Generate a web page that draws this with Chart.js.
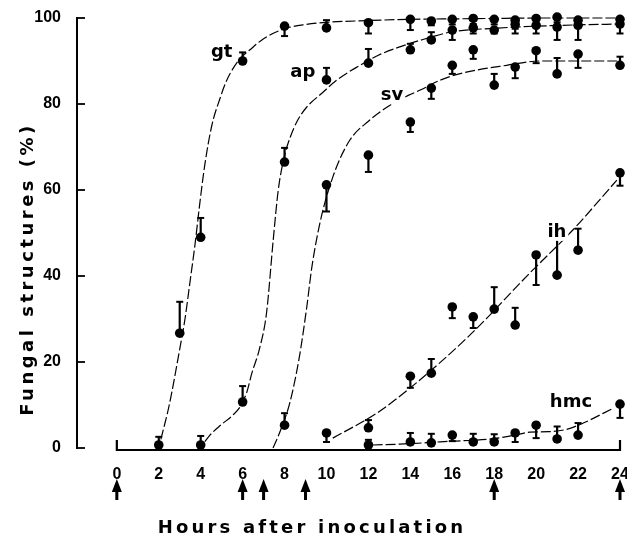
<!DOCTYPE html>
<html>
<head>
<meta charset="utf-8">
<script src="https://cdn.jsdelivr.net/npm/chart.js@4.4.1/dist/chart.umd.min.js"></script>
<style>
  html, body { margin: 0; padding: 0; background: #fff; }
  canvas { display: block; }
</style>
</head>
<body>
<canvas id="c" width="627" height="541"></canvas>
<script>
// ---------- data ----------
const xTicks = [0, 2, 4, 6, 8, 10, 12, 14, 16, 18, 20, 22, 24];
const yTicks = [0, 20, 40, 60, 80, 100];
const arrowHours = [0, 6, 7, 9, 18, 24];

// germ tubes (gt)
const gtHours = [2, 3, 4, 6, 8, 10, 12, 14, 15, 16, 17, 18, 19, 20, 21, 22, 24];
const gtValues = [0.7, 26.7, 49, 90, 98.1, 97.7, 98.9, 99.7, 99.3, 99.7, 99.9, 99.7, 99.5, 99.9, 100.2, 99.5, 99.7];
const gtErrEnd = [2.6, 34, 53.5, 92, 95.8, 99.5, 96.4, 97.2, 98.3, 98.5, 98.6, 98.5, 96.4, 98.7, 99, 98.4, 98.5];

// appressoria (ap)
const apHours = [4, 6, 8, 10, 12, 14, 15, 16, 17, 18, 19, 20, 21, 22, 24];
const apValues = [0.7, 10.7, 66.5, 85.6, 89.5, 92.6, 94.9, 97.2, 97.7, 97.2, 98.5, 98.3, 97.9, 98.3, 98.6];
const apErrEnd = [2.8, 14.4, 69.8, 88.4, 92.8, 94, 96.7, 94.9, 96.4, 96.4, 97.5, 96.4, 94.9, 94.9, 96.4];

// substomatal vesicles (sv)
const svHours = [8, 10, 12, 14, 15, 16, 17, 18, 19, 20, 21, 22, 24];
const svValues = [5.3, 61.2, 68.1, 75.8, 83.7, 89, 92.6, 84.4, 88.6, 92.4, 87, 91.6, 89];
const svErrEnd = [8.1, 55, 64.2, 73.5, 81.2, 87, 90.5, 87, 86, 89.5, 90.7, 88.4, 91];

// infection hyphae (ih)
const ihHours = [10, 12, 14, 15, 16, 17, 18, 19, 20, 21, 22, 24];
const ihValues = [3.5, 4.7, 16.7, 17.4, 32.8, 30.5, 32.3, 28.6, 44.9, 40.2, 46, 64];
const ihErrEnd = [1.4, 6.5, 14, 20.7, 30.2, 27.9, 37.4, 32.6, 37.9, 49.5, 51, 61];

// haustorial mother cells (hmc)
const hmcHours = [12, 14, 15, 16, 17, 18, 19, 20, 21, 22, 24];
const hmcValues = [0.7, 1.4, 1.2, 3, 1.4, 1.4, 3.5, 5.3, 2.1, 3, 10.2];
const hmcErrEnd = [1.9, 3.5, 3.3, 1.6, 3.3, 3.2, 1.4, 2.3, 5, 5.8, 7];

// fitted curves
const gtCurveX = [2.1, 2.5, 3, 3.25, 3.5, 3.72, 3.96, 4.2, 4.53, 4.9, 5.25, 5.87, 6.35, 7, 8, 9, 10, 12, 14, 16, 18, 20, 22, 24];
const gtCurveY = [2, 10, 23, 30, 39, 47, 57, 66, 75, 81, 85.6, 90.5, 92.6, 95.2, 97.5, 98.5, 99, 99.4, 99.7, 99.8, 99.9, 100, 100, 100];
const apCurveX = [4.2, 4.44, 5, 5.5, 5.87, 6.2, 6.44, 6.8, 7.14, 7.46, 7.7, 8, 8.25, 8.6, 9.06, 9.78, 10.5, 11.6, 12.5, 13.5, 14.6, 16, 18, 20, 22, 24];
const apCurveY = [1.5, 3, 5.5, 7.5, 9.5, 13, 17.4, 23, 31.4, 48.4, 60, 68, 72, 76, 79.3, 82.5, 85.6, 89, 91.4, 93.3, 95, 96.8, 97.6, 98.1, 98.4, 98.6];
const svCurveX = [7.45, 7.8, 8.25, 8.7, 9.06, 9.3, 9.7, 10.3, 11.1, 12, 12.9, 13.9, 14.5, 15.4, 16.5, 18.6, 20.2, 22, 24];
const svCurveY = [0, 4, 10.5, 21, 32.8, 42, 52.6, 63, 71.5, 76, 79.3, 82, 83.3, 85.5, 87.2, 89, 90, 90, 90];
const ihCurveX = [10.3, 12.4, 14, 15.4, 16.7, 17.65, 18.6, 19.7, 21.75, 23.85];
const ihCurveY = [2.3, 8.1, 14, 19.8, 25.6, 30.2, 35.1, 40.7, 50.7, 62.3];
const hmcCurveX = [12.2, 13.5, 15, 16, 17, 18, 19, 19.7, 20.6, 21.5, 22.25, 23.7];
const hmcCurveY = [0.7, 0.9, 1.3, 1.6, 1.8, 2.2, 3, 3.7, 3.8, 4.4, 5.8, 9.3];

const seriesNames = ['gt', 'ap', 'sv', 'ih', 'hmc'];
const xTitle = 'Hours after inoculation';
const yTitle = 'Fungal structures (%)';

// ---------- build datasets ----------
const toXY = (xs, ys) => xs.map((x, i) => ({ x: x, y: ys[i] }));
const series = [
  { name: 'gt', h: gtHours, v: gtValues, e: gtErrEnd, cx: gtCurveX, cy: gtCurveY },
  { name: 'ap', h: apHours, v: apValues, e: apErrEnd, cx: apCurveX, cy: apCurveY },
  { name: 'sv', h: svHours, v: svValues, e: svErrEnd, cx: svCurveX, cy: svCurveY },
  { name: 'ih', h: ihHours, v: ihValues, e: ihErrEnd, cx: ihCurveX, cy: ihCurveY },
  { name: 'hmc', h: hmcHours, v: hmcValues, e: hmcErrEnd, cx: hmcCurveX, cy: hmcCurveY }
];

const datasets = [];
series.forEach(s => {
  datasets.push({
    type: 'line', label: s.name + ' fit', data: toXY(s.cx, s.cy),
    borderColor: '#000', borderWidth: 1.2, borderDash: [10, 3],
    pointRadius: 0, fill: false, cubicInterpolationMode: 'monotone', clip: false, order: 2
  });
  datasets.push({
    type: 'scatter', label: s.name, data: toXY(s.h, s.v), errEnd: s.e,
    backgroundColor: '#000', borderColor: '#000', pointRadius: 4.8, pointBorderWidth: 0,
    showLine: false, clip: false, order: 1
  });
});

const FONT = 'DejaVu Sans';
const TICKFONT = 'Liberation Sans';

// label anchors in data units (x = hours, y = % at text baseline)
const labelAnchors = { gt: [5.0, 90.9], ap: [8.87, 86.3], sv: [13.12, 80.9], ih: [20.99, 49.1], hmc: [21.66, 9.5] };

const decor = {
  id: 'decor',
  beforeDraw(chart) {
    const ctx = chart.ctx;
    ctx.save();
    ctx.fillStyle = '#fff';
    ctx.fillRect(0, 0, chart.width, chart.height);
    ctx.restore();
  },
  afterDatasetsDraw(chart) {
    const ctx = chart.ctx, xs = chart.scales.x, ys = chart.scales.y;
    ctx.save();
    ctx.strokeStyle = '#000';
    ctx.fillStyle = '#000';
    // error bars
    chart.data.datasets.forEach(ds => {
      if (!ds.errEnd) return;
      ds.data.forEach((p, i) => {
        const px = xs.getPixelForValue(p.x);
        const py = ys.getPixelForValue(p.y);
        const pe = ys.getPixelForValue(ds.errEnd[i]);
        ctx.lineWidth = 2.2;
        ctx.beginPath();
        ctx.moveTo(px, py);
        ctx.lineTo(px, pe);
        ctx.stroke();
        ctx.lineWidth = 2;
        ctx.beginPath();
        ctx.moveTo(px - 3.5, pe);
        ctx.lineTo(px + 3.5, pe);
        ctx.stroke();
      });
    });
    // series labels
    ctx.font = 'bold 18px "' + FONT + '"';
    ctx.textAlign = 'center';
    ctx.textBaseline = 'alphabetic';
    seriesNames.forEach(n => {
      const a = labelAnchors[n];
      const lx = xs.getPixelForValue(a[0]);
      const ly = ys.getPixelForValue(a[1]);
      const w = ctx.measureText(n).width;
      ctx.fillStyle = '#fff';
      ctx.fillRect(lx - w / 2 - 2, ly - 14, w + 4, 18);
      ctx.fillStyle = '#000';
      ctx.fillText(n, lx, ly);
    });
    // y axis inner ticks
    const axX = chart.chartArea.left;
    ctx.lineWidth = 1.8;
    yTicks.forEach(v => {
      const py = ys.getPixelForValue(v);
      ctx.beginPath();
      ctx.moveTo(axX, py);
      ctx.lineTo(axX + 8, py);
      ctx.stroke();
    });
    // x axis baseline (only from 0 to 24 h)
    const x0 = xs.getPixelForValue(xTicks[0]);
    const x1 = xs.getPixelForValue(xTicks[xTicks.length - 1]);
    const by = ys.getPixelForValue(0) + 2;
    ctx.lineWidth = 2.2;
    ctx.beginPath();
    ctx.moveTo(x0, by - 10); ctx.lineTo(x0, by); ctx.lineTo(x1, by); ctx.lineTo(x1, by - 10);
    ctx.stroke();
    // arrows under the axis
    arrowHours.forEach(h => {
      const ax = xs.getPixelForValue(h);
      ctx.beginPath();
      ctx.moveTo(ax, 479);
      ctx.lineTo(ax + 5, 492);
      ctx.lineTo(ax - 5, 492);
      ctx.closePath();
      ctx.fill();
      ctx.fillRect(ax - 1.5, 490, 3, 10);
    });
    // axis titles with letter spacing
    ctx.fillStyle = '#000';
    ctx.textAlign = 'center';
    ctx.textBaseline = 'alphabetic';
    ctx.font = 'bold 18px "' + FONT + '"';
    ctx.letterSpacing = '3.2px';
    ctx.fillText(xTitle, 312, 533);
    ctx.letterSpacing = '3.5px';
    ctx.translate(33, 269);
    ctx.rotate(-Math.PI / 2);
    ctx.fillText(yTitle, 0, 0);
    ctx.restore();
  }
};

new Chart(document.getElementById('c'), {
  data: { datasets: datasets },
  options: {
    responsive: false,
    animation: false,
    layout: { padding: { top: 18, right: 7, left: 0, bottom: 0 } },
    plugins: { legend: { display: false }, tooltip: { enabled: false } },
    scales: {
      x: {
        type: 'linear', min: -1.9, max: 24,
        afterBuildTicks: s => { s.ticks = xTicks.map(v => ({ value: v })); },
        afterFit: s => { s.height = 93; s.paddingLeft = 0; s.paddingRight = 0; },
        grid: { display: false },
        border: { display: false },
        ticks: { color: '#000', font: { family: TICKFONT, size: 16, weight: 'bold' }, padding: 9, autoSkip: false, maxRotation: 0 }
      },
      y: {
        type: 'linear', min: 0, max: 100,
        afterBuildTicks: s => { s.ticks = yTicks.map(v => ({ value: v })); },
        afterFit: s => { s.width = 77; s.paddingTop = 0; s.paddingBottom = 0; },
        grid: { display: false },
        border: { display: true, color: '#000', width: 2 },
        ticks: { color: '#000', font: { family: TICKFONT, size: 16, weight: 'bold' }, padding: 8 }
      }
    }
  },
  plugins: [decor]
});
</script>
</body>
</html>
